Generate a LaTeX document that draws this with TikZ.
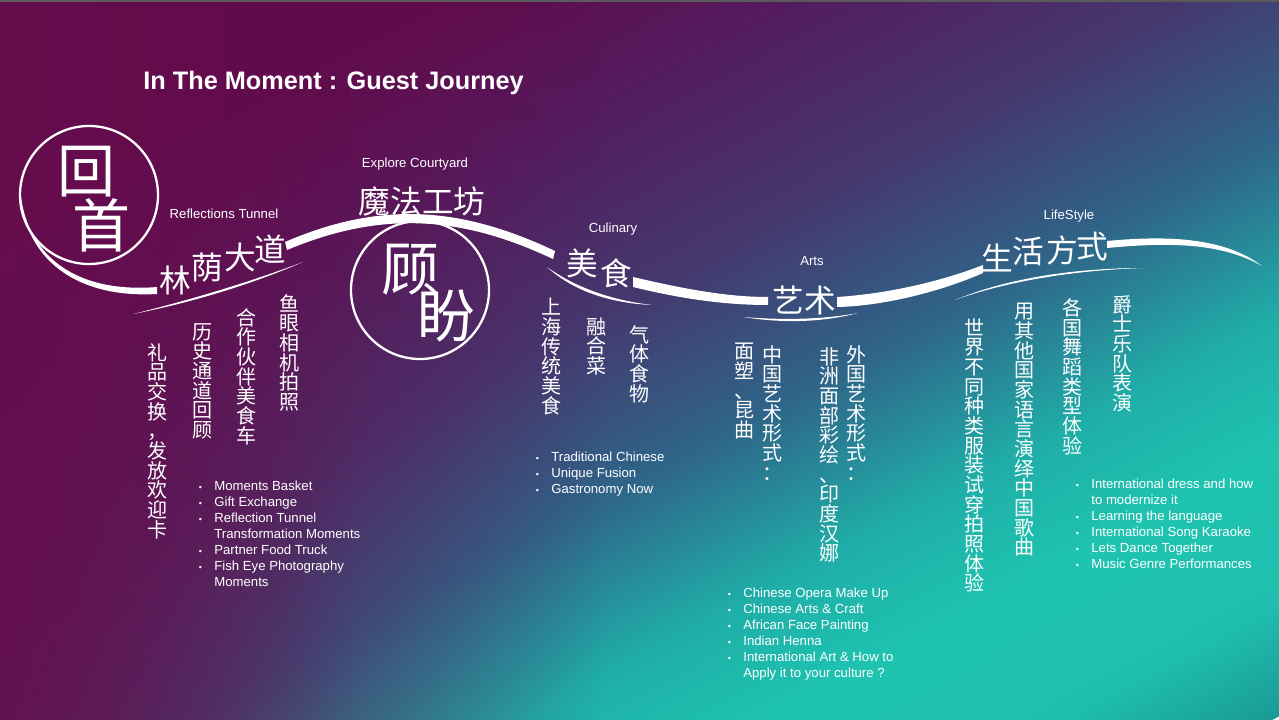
\documentclass[tikz,border=0pt]{standalone}
\usepackage{fontspec}
\setmainfont{Liberation Sans}
\newfontfamily\cjk{Noto Sans CJK SC}
\usetikzlibrary{fadings,positioning}
\definecolor{jrnmag}{HTML}{600A4B}
\definecolor{jrnpink}{HTML}{660D4E}
\definecolor{jrnplum}{HTML}{531C5E}
\definecolor{jrnviolet}{HTML}{45386E}
\definecolor{jrnslate}{HTML}{2F6488}
\definecolor{jrnsea}{HTML}{1FAEA8}
\definecolor{jrnteal}{HTML}{1EC4B0}
\definecolor{jrntealb}{HTML}{1EBFAE}
\definecolor{jrndeep}{HTML}{1A9A94}
\definecolor{jrnedge}{HTML}{5A5A5A}
\pgfdeclarehorizontalshading{jrnbg}{100bp}{color(0bp)=(jrnmag); color(33bp)=(jrnmag);
  color(40.4bp)=(jrnplum); color(47.7bp)=(jrnviolet); color(54.2bp)=(jrnslate);
  color(60.7bp)=(jrnsea); color(65.6bp)=(jrnteal); color(70.8bp)=(jrntealb);
  color(75bp)=(jrndeep); color(100bp)=(jrndeep)}
\tikzfading[name=jrnfadeleft,left color=transparent!0,right color=transparent!100]
\newcommand\blt{\llap{\fontsize{5}{5}\selectfont\textbullet\hspace{7pt}}}
\newcommand\vcolfont{\cjk\fontsize{11.4}{11.2}\selectfont\lineskiplimit=-6pt\relax}

\begin{document}
\begin{tikzpicture}[x=0.02cm,y=-0.02cm,line cap=round,line join=round,
  text=white,
  lbl/.style={font=\fontsize{7.5}{9}\selectfont,inner sep=1pt},
  big/.style={font=\cjk\fontsize{18}{18}\selectfont,inner sep=0pt},
  huge/.style={font=\cjk\fontsize{33}{33}\selectfont,inner sep=0pt},
  vcol/.style={font=\vcolfont,align=center,anchor=north,inner sep=0pt},
  blist/.style={font=\fontsize{7.5}{9.07}\selectfont,align=left,anchor=north west,inner sep=0pt},
  ring/.style={draw=white,line width=1.3pt}]
\path[use as bounding box] (0,0) rectangle (1279,720);

% background: magenta on the left, teal towards the lower right
\begin{scope}
  \clip (0,0) rectangle (1279,720);
  \begin{scope}[transform canvas={rotate=-62}]
    \shade[shading=jrnbg] (0,-1140) rectangle (1233,350);
  \end{scope}
  \fill[jrnpink,path fading=jrnfadeleft,fill opacity=.8] (0,0) rectangle (600,720);
  \fill[jrnpink,path fading=jrnfadeleft,fill opacity=.6] (0,0) rectangle (350,720);
  \fill[jrnedge] (0,0) rectangle (1279,2);
\end{scope}

\node[font=\bfseries\fontsize{14.4}{16}\selectfont,anchor=west,inner sep=0pt] (title) at (143,83)
  {In The Moment : Guest Journey};

% the journey ribbon, broken where the stage names sit
\fill[white] (20,182) .. controls (21,250) and (70,294) .. (157,287)
  -- (157,294) .. controls (68,299) and (19,251) .. (20,182) -- cycle;
\fill[white] (285,242) .. controls (380,201) and (460,206) .. (555,251)
  -- (553,259) .. controls (460,215) and (380,211) .. (287,250) -- cycle;
\fill[white] (633,277) .. controls (680,288) and (725,297) .. (768,297)
  -- (768,305) .. controls (722,305) and (678,298) .. (633,287) -- cycle;
\fill[white] (837,297) .. controls (885,294) and (940,282) .. (983,265)
  -- (983,273) .. controls (942,291) and (885,306) .. (837,307) -- cycle;
\fill[white] (1107,241) .. controls (1170,235) and (1225,238) .. (1262,266)
  .. controls (1222,243) and (1170,242) .. (1107,248) -- cycle;

% thin strokes under the stage names
\fill[white] (133,314) .. controls (190,300) and (250,282) .. (303,262)
  .. controls (250,285) and (190,303) .. (133,314) -- cycle;
\fill[white] (547,267) .. controls (575,287) and (610,300) .. (652,305)
  .. controls (608,303) and (572,290) .. (547,267) -- cycle;
\fill[white] (743,317) .. controls (780,320) and (820,320) .. (858,313)
  .. controls (820,323) and (780,323) .. (743,317) -- cycle;
\fill[white] (955,300) .. controls (1010,277) and (1080,268) .. (1143,268)
  .. controls (1080,270) and (1010,280) .. (955,300) -- cycle;

% rings
\draw[ring] (89,195) circle[radius=69];
\draw[ring] (420,290) circle[radius=69];
\node[huge] (hui) at (86,172) {回};
\node[huge] (shou) at (101,225) {首};
\node[huge] (gu) at (410,270) {顾};
\node[huge] (pan) at (446,316) {盼};

% stage names
\node[lbl] (tunnel) at (224,214) {Reflections Tunnel};
\node[lbl] (court) at (415,164) {Explore Courtyard};
\node[lbl] (culinary) at (613,229) {Culinary};
\node[lbl] (arts) at (812,261) {Arts};
\node[lbl] (life) at (1069,216) {LifeStyle};
\node[big] (lin) at (175,280) {林};
\node[big] (yin) at (207,268) {荫};
\node[big] (da) at (240,257) {大};
\node[big] (dao) at (270,249) {道};
\node[big] (mofa) at (422,201) {魔法工坊};
\node[big] (mei) at (582,263) {美};
\node[big] (shi) at (616,273) {食};
\node[big] (yishu) at (804,300) {艺术};
\node[big] (sheng) at (997,258) {生};
\node[big] (huo) at (1028,252) {活};
\node[big] (fang) at (1062,250) {方};
\node[big] (shiB) at (1092,247) {式};

% vertical columns
\node[vcol] (gift) at (158,343) {礼\\品\\交\\换\\，\\发\\放\\欢\\迎\\卡};
\node[vcol] (hist) at (203,323) {历\\史\\通\\道\\回\\顾};
\node[vcol] (truck) at (247,308) {合\\作\\伙\\伴\\美\\食\\车};
\node[vcol] (fish) at (290,294) {鱼\\眼\\相\\机\\拍\\照};
\node[vcol] (shanghai) at (552,298) {上\\海\\传\\统\\美\\食};
\node[vcol] (fusion) at (597,317) {融\\合\\菜};
\node[vcol] (gas) at (640,325) {气\\体\\食\\物};
\node[vcol] (opera) at (745,343) {面\\塑\\、\\昆\\曲};
\node[vcol] (cnart) at (773,345) {中\\国\\艺\\术\\形\\式\\：};
\node[vcol] (henna) at (830,347) {非\\洲\\面\\部\\彩\\绘\\、\\印\\度\\汉\\娜};
\node[vcol] (intart) at (857,345) {外\\国\\艺\\术\\形\\式\\：};
\node[vcol] (dress) at (975,318) {世\\界\\不\\同\\种\\类\\服\\装\\试\\穿\\拍\\照\\体\\验};
\node[vcol] (song) at (1025,303) {用\\其\\他\\国\\家\\语\\言\\演\\绎\\中\\国\\歌\\曲};
\node[vcol] (dance) at (1073,298) {各\\国\\舞\\蹈\\类\\型\\体\\验};
\node[vcol] (jazz) at (1123,295) {爵\\士\\乐\\队\\表\\演};

% bullet lists
\node[blist] (tunnelList) at (214,481) {\blt Moments Basket\\\blt Gift Exchange\\
  \blt Reflection Tunnel\\Transformation Moments\\\blt Partner Food Truck\\
  \blt Fish Eye Photography\\Moments};
\node[blist] (culList) at (551,452) {\blt Traditional Chinese\\\blt Unique Fusion\\
  \blt Gastronomy Now};
\node[blist] (artList) at (743,588) {\blt Chinese Opera Make Up\\\blt Chinese Arts \& Craft\\
  \blt African Face Painting\\\blt Indian Henna\\\blt International Art \& How to\\
  Apply it to your culture ?};
\node[blist] (lifeList) at (1091,479) {\blt International dress and how\\to modernize it\\
  \blt Learning the language\\\blt International Song Karaoke\\\blt Lets Dance Together\\
  \blt Music Genre Performances};
\end{tikzpicture}
\end{document}
